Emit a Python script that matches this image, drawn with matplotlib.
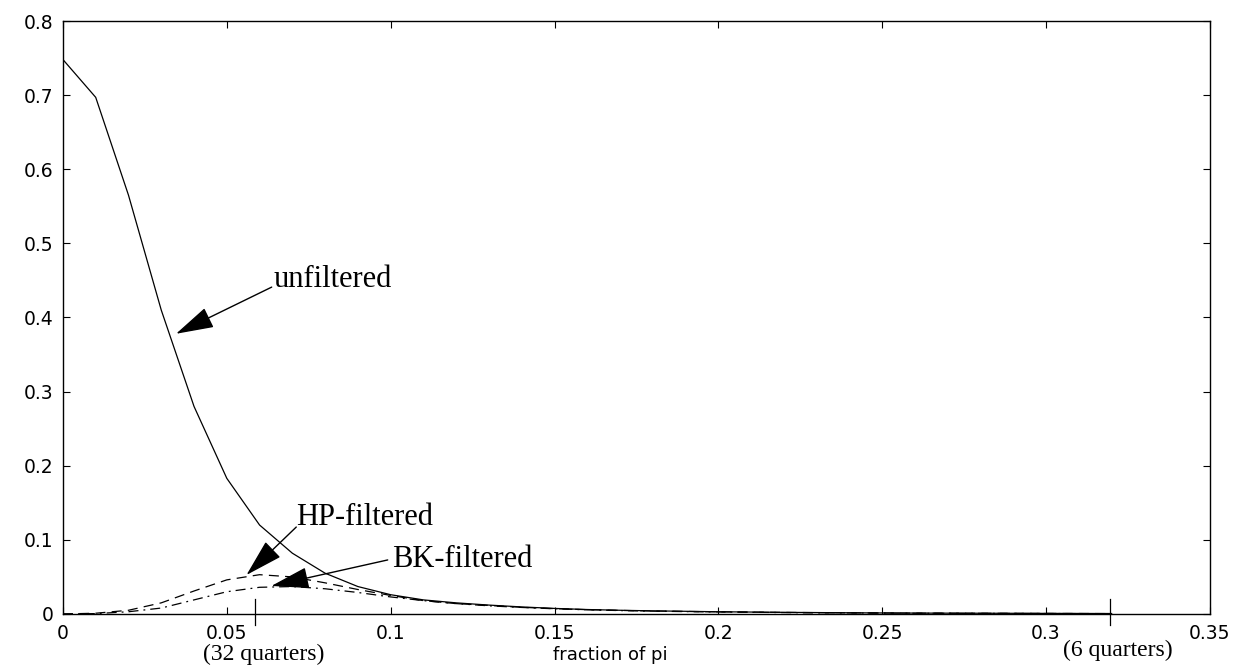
import matplotlib
matplotlib.use("Agg")
import matplotlib.pyplot as plt
import numpy as np

# frequency grid (fraction of pi)
freq = [0.00, 0.01, 0.02, 0.03, 0.04, 0.05, 0.06, 0.07, 0.08, 0.09, 0.10,
        0.11, 0.12, 0.13, 0.14, 0.15, 0.16, 0.17, 0.18, 0.19, 0.20,
        0.21, 0.22, 0.23, 0.24, 0.25, 0.26, 0.27, 0.28, 0.29, 0.30,
        0.31, 0.32]

unfiltered = [0.748, 0.697, 0.565, 0.410, 0.280, 0.183, 0.120, 0.082, 0.055, 0.037, 0.026,
              0.019, 0.015, 0.012, 0.0095, 0.0075, 0.006, 0.005, 0.0042, 0.0036, 0.003,
              0.0026, 0.0022, 0.0019, 0.0016, 0.0014, 0.0012, 0.0011, 0.001, 0.0009, 0.0008,
              0.0007, 0.0006]

hp_filtered = [0.0, 0.001, 0.005, 0.015, 0.031, 0.046, 0.053, 0.050, 0.042, 0.033, 0.025,
               0.018, 0.014, 0.0115, 0.009, 0.0072, 0.0058, 0.0048, 0.004, 0.0034, 0.0029,
               0.0025, 0.0021, 0.0018, 0.0015, 0.0013, 0.0011, 0.001, 0.0009, 0.0008, 0.0007,
               0.0006, 0.0005]

bk_filtered = [0.0, 0.0005, 0.003, 0.008, 0.019, 0.030, 0.036, 0.037, 0.034, 0.029, 0.023,
               0.018, 0.014, 0.011, 0.0088, 0.007, 0.0056, 0.0046, 0.0038, 0.0032, 0.0027,
               0.0023, 0.0019, 0.0016, 0.0014, 0.0012, 0.001, 0.0009, 0.0008, 0.0007, 0.0006,
               0.0005, 0.0004]

x_ticks = [0, 0.05, 0.1, 0.15, 0.2, 0.25, 0.3, 0.35]
x_tick_labels = ["0", "0.05", "0.1", "0.15", "0.2", "0.25", "0.3", "0.35"]
y_ticks = [0, 0.1, 0.2, 0.3, 0.4, 0.5, 0.6, 0.7, 0.8]
y_tick_labels = ["0", "0.1", "0.2", "0.3", "0.4", "0.5", "0.6", "0.7", "0.8"]

# marked periods on the x axis
marked_freq = [0.0587, 0.3195]
marked_labels = ["(32 quarters)", "(6 quarters)"]

fig = plt.figure(figsize=(12.44, 6.67), dpi=100)
ax = fig.add_axes([0.0506, 0.0795, 0.922, 0.889])

ax.plot(freq, unfiltered, color="black", lw=0.9)
ax.plot(freq, hp_filtered, color="black", lw=0.9, dashes=(8, 5))
ax.plot(freq, bk_filtered, color="black", lw=0.9, dashes=(8, 4, 1.5, 4))

ax.set_xlim(0, 0.35)
ax.set_ylim(0, 0.8)
ax.set_xticks(x_ticks)
ax.set_xticklabels(x_tick_labels)
ax.set_yticks(y_ticks)
ax.set_yticklabels(y_tick_labels)
ax.tick_params(direction="in", length=5, width=0.8, top=True, right=True,
               labelsize=13.5, pad=7)
for lab in ax.get_xticklabels() + ax.get_yticklabels():
    lab.set_family("DejaVu Sans")
for sp in ax.spines.values():
    sp.set_linewidth(1.0)

# xlabel placed a bit left of centre, as in the original
ax.text(0.167, -0.069, "fraction of pi", ha="center", va="center",
        fontsize=13, family="DejaVu Sans", transform=ax.get_xaxis_transform())

# long ticks for the marked periods
offsets = [-0.069, -0.061]
for xf, lab, off in zip(marked_freq, marked_labels, offsets):
    ax.axvline(xf, ymin=-0.019, ymax=0.026, color="black", lw=0.9, clip_on=False)
    ax.text(xf + 0.0025, off, lab, ha="center", va="center", fontsize=17,
            family="Liberation Serif", transform=ax.get_xaxis_transform())

arrow = dict(arrowstyle="-|>,head_length=1.2,head_width=0.34", color="black",
             lw=1.0, shrinkA=0, shrinkB=0, mutation_scale=20)

ax.annotate("", xy=(0.0345, 0.378), xytext=(0.0637, 0.441), arrowprops=arrow)
ax.text(0.0643, 0.441, "unfiltered", fontsize=22, family="Liberation Serif",
        ha="left", va="baseline")

ax.annotate("", xy=(0.0560, 0.0526), xytext=(0.0712, 0.1173), arrowprops=arrow)
ax.text(0.0712, 0.120, "HP-filtered", fontsize=22, family="Liberation Serif",
        ha="left", va="baseline")

ax.annotate("", xy=(0.0636, 0.0378), xytext=(0.0991, 0.0729), arrowprops=arrow)
ax.text(0.1005, 0.0634, "BK-filtered", fontsize=22, family="Liberation Serif",
        ha="left", va="baseline")

fig.savefig("out.png", dpi=100)
